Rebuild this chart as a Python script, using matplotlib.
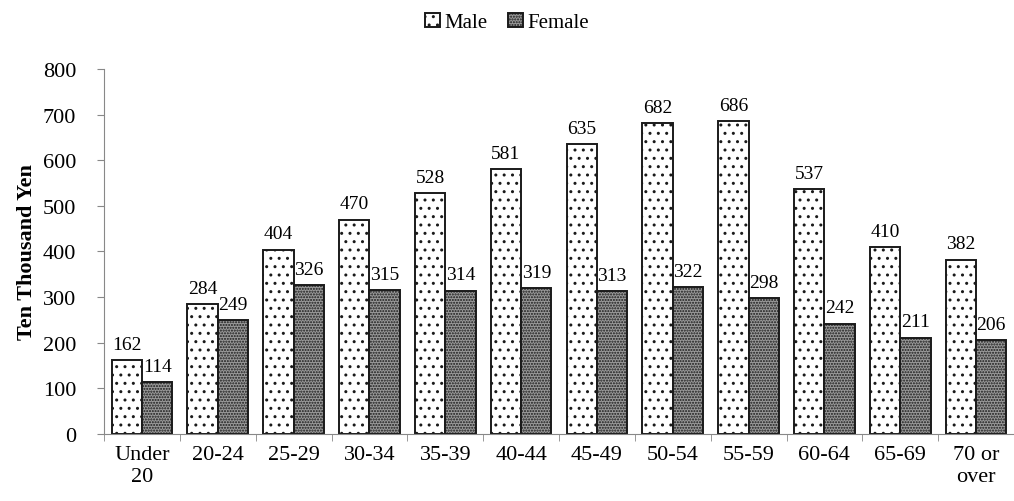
import numpy as np
import matplotlib.pyplot as plt
import matplotlib as mpl

plt.rcParams['font.family'] = ['Liberation Serif', 'DejaVu Serif']
mpl.rcParams['hatch.linewidth'] = 1.0

# data
categories = ['Under\n20', '20-24', '25-29', '30-34', '35-39', '40-44', '45-49',
              '50-54', '55-59', '60-64', '65-69', '70 or\nover']
male = [162, 284, 404, 470, 528, 581, 635, 682, 686, 537, 410, 382]
female = [114, 249, 326, 315, 314, 319, 313, 322, 298, 242, 211, 206]

fig = plt.figure(figsize=(10.14, 5.02), dpi=100)
ax = fig.add_axes([0.1026, 0.1335, 0.8974, 0.7271])

x = np.arange(len(categories))
w = 0.4
b1 = ax.bar(x - w/2, male, w, color='white', edgecolor='#1a1a1a', hatch='..', linewidth=1.4, label='Male')
b2 = ax.bar(x + w/2, female, w, color='#9a9a9a', edgecolor='#1a1a1a', hatch='......', linewidth=1.4, label='Female')

for r, v in zip(b1, male):
    ax.text(r.get_x() + r.get_width()/2, v + 16, str(v), ha='center', va='bottom', fontsize=14)
for r, v in zip(b2, female):
    ax.text(r.get_x() + r.get_width()/2, v + 16, str(v), ha='center', va='bottom', fontsize=14)

ax.set_xlim(-0.5, len(categories) - 0.5)
ax.set_ylim(0, 800)
ax.set_yticks(range(0, 801, 100))
ax.set_xticks(x)
ax.set_xticklabels(categories, fontsize=16)
ax.set_xticks(np.arange(-0.5, len(categories), 1), minor=True)
ax.tick_params(axis='x', which='major', length=0, pad=8)
ax.tick_params(axis='x', which='minor', length=5, color='#888888')
ax.tick_params(axis='y', labelsize=16, length=5, color='#888888', pad=15)
for s in ['top', 'right']:
    ax.spines[s].set_visible(False)
for s in ['left', 'bottom']:
    ax.spines[s].set_color('#888888')

ax.set_ylabel('Ten Thousand Yen', fontsize=16, fontweight='bold', labelpad=4)

fig.legend(handles=[b1, b2], loc='upper center', bbox_to_anchor=(0.5, 1.01), ncol=2,
           frameon=False, fontsize=15, handlelength=0.7, handleheight=0.7,
           handletextpad=0.2, columnspacing=1.0)

fig.savefig('out.png', dpi=100)
